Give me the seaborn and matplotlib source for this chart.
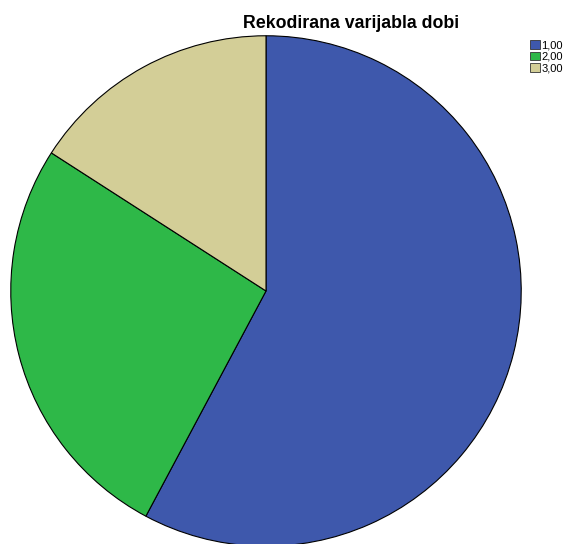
import matplotlib
matplotlib.use('Agg')
from matplotlib import pyplot as plt
from matplotlib.patches import Patch
import seaborn as sns

# slice shares (percent)
categories = ["1,00", "2,00", "3,00"]
shares = [57.8, 26.3, 15.9]
colors = ["#3E58AC", "#2EB848", "#D3CE97"]

sns.set_style("white")
plt.rcParams['font.family'] = ['Liberation Sans', 'DejaVu Sans']
plt.rcParams['text.color'] = 'black'

fig = plt.figure(figsize=(5.66, 5.44), dpi=100)
ax = fig.add_axes([10 / 566, -3 / 544, 512 / 566, 512 / 544])
ax.pie(shares, colors=colors, startangle=90, counterclock=False,
       radius=1, wedgeprops=dict(edgecolor="black", linewidth=0.8))
ax.set_xlim(-1.003, 1.003)
ax.set_ylim(-1.003, 1.003)
ax.axis('off')

fig.text(351 / 566, 1 - 28 / 544, "Rekodirana varijabla dobi",
         ha='center', va='baseline', fontsize=12.8, fontweight='bold',
         color='black')

handles = [Patch(facecolor=c, edgecolor="#333333", linewidth=0.6) for c in colors]
fig.legend(handles, categories, loc='upper left',
           bbox_to_anchor=(528 / 566, 1 - 38 / 544), frameon=False,
           fontsize=8, handlelength=0.85, handleheight=0.85,
           handletextpad=0.15, labelspacing=0.1, borderaxespad=0,
           borderpad=0.2)

plt.savefig("out.png", dpi=100)
plt.close()
